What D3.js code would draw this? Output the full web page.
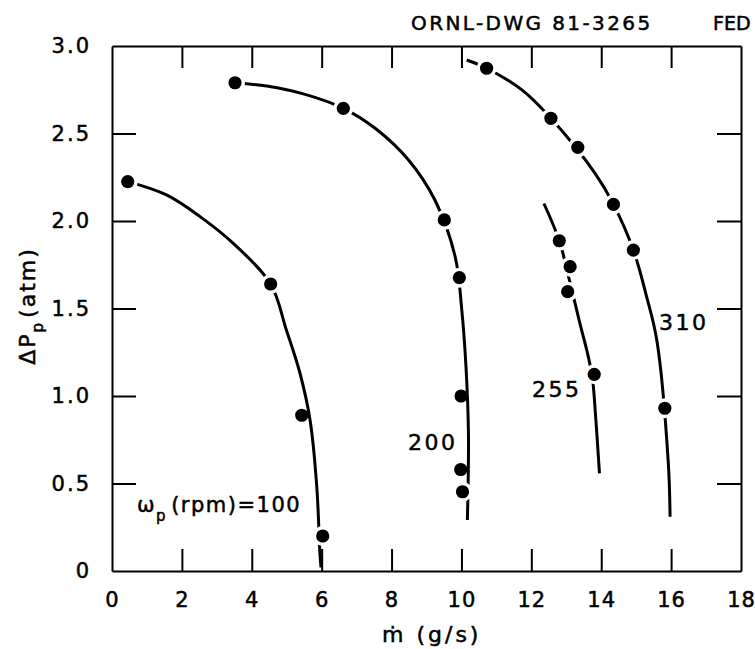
<!DOCTYPE html>
<html>
<head>
<meta charset="utf-8">
<script src="https://cdn.jsdelivr.net/npm/d3@7"></script>
<style>
  body { margin: 0; background: #fff; }
  text { font-family: "DejaVu Sans", sans-serif; fill: #000; stroke: #000; stroke-width: 0.5px; }
</style>
</head>
<body>
<div id="chart"></div>
<script>
'use strict';

// pump speeds (rpm) of the four curves
const speeds = [100, 200, 255, 310];

// measured points, mass flow (g/s) and pressure rise (atm)
const flow100 = [0.45, 4.54, 5.43, 6.03];
const dp100   = [2.225, 1.64, 0.89, 0.20];
const flow200 = [3.52, 6.62, 9.51, 9.94, 9.99, 9.98, 10.03];
const dp200   = [2.79, 2.644, 2.006, 1.676, 1.00, 0.58, 0.453];
const flow255 = [12.80, 13.11, 13.04, 13.80];
const dp255   = [1.887, 1.739, 1.596, 1.124];
const flow310 = [10.72, 12.56, 13.33, 14.35, 14.92, 15.82];
const dp310   = [2.873, 2.587, 2.421, 2.095, 1.834, 0.93];

// hand-drawn fitted curves
const fit100 = [[0.45,2.225],[1.56,2.149],[2.52,2.025],[3.47,1.872],[4.54,1.64],[4.99,1.377],[5.38,1.13],[5.67,0.86],[5.86,0.482],[5.95,0.103],[5.98,0.02]];
const fit200 = [[3.52,2.79],[4.43,2.771],[5.5,2.725],[6.62,2.644],[7.53,2.53],[8.48,2.35],[9.24,2.12],[9.82,1.796],[10.01,1.491],[10.13,1.167],[10.2,0.787],[10.17,0.291]];
const fit255 = [[12.36,2.10],[12.8,1.887],[13.08,1.67],[13.39,1.415],[13.63,1.225],[13.75,1.10],[13.82,0.939],[13.95,0.558]];
const fit310 = [[10.15,2.92],[10.72,2.873],[11.73,2.749],[12.56,2.587],[13.82,2.273],[14.35,2.095],[14.92,1.834],[15.3,1.567],[15.59,1.32],[15.92,0.615],[15.97,0.31]];

const xTicks = [0, 2, 4, 6, 8, 10, 12, 14, 16, 18];
const yTicks = [0, 0.5, 1.0, 1.5, 2.0, 2.5, 3.0];

const curves = [
  {flow: flow100, dp: dp100, fit: fit100},
  {flow: flow200, dp: dp200, fit: fit200},
  {flow: flow255, dp: dp255, fit: fit255},
  {flow: flow310, dp: dp310, fit: fit310}
];

var width = 755, height = 649;
var margin = {top: 46, right: 14, bottom: 78, left: 112};

var svg = d3.select("#chart").append("svg")
  .attr("width", width)
  .attr("height", height);

var x = d3.scaleLinear().domain([0, 18]).range([margin.left, width - margin.right]);
var y = d3.scaleLinear().domain([0, 3]).range([height - margin.bottom, margin.top]);

// ****************** axes ***************************
function styleAxis(g, spacing) {
  g.select(".domain").attr("stroke", "#000").attr("stroke-width", 2);
  g.selectAll(".tick line").attr("stroke", "#000").attr("stroke-width", 2);
  g.selectAll(".tick text")
    .attr("font-size", 21)
    .attr("letter-spacing", spacing)
    .attr("fill", "#000");
}

// drop the end ticks that sit on the frame
function dropEnds(g, ends) {
  g.selectAll(".tick").filter(d => ends.includes(d)).select("line").remove();
}

svg.append("g")
  .attr("transform", "translate(0," + y(0) + ")")
  .call(d3.axisBottom(x).tickValues(xTicks).tickSizeInner(-22).tickSizeOuter(0).tickPadding(21))
  .call(styleAxis, 1)
  .call(dropEnds, [0, 18]);

svg.append("g")
  .attr("transform", "translate(" + x(0) + ",0)")
  .call(d3.axisLeft(y).tickValues(yTicks).tickSizeInner(-24).tickSizeOuter(0).tickPadding(21)
    .tickFormat(d => d === 0 ? "0" : d.toFixed(1)))
  .call(styleAxis, 2)
  .call(dropEnds, [0, 3]);

svg.append("g")
  .attr("transform", "translate(0," + y(3) + ")")
  .call(d3.axisTop(x).tickValues(xTicks).tickSizeInner(-22).tickSizeOuter(0).tickFormat(""))
  .call(styleAxis, 0)
  .call(dropEnds, [0, 18]);

svg.append("g")
  .attr("transform", "translate(" + x(18) + ",0)")
  .call(d3.axisRight(y).tickValues(yTicks).tickSizeInner(-24).tickSizeOuter(0).tickFormat(""))
  .call(styleAxis, 0)
  .call(dropEnds, [0, 3]);

// ****************** curves and points ***************************
var line = d3.line()
  .x(d => x(d[0]))
  .y(d => y(d[1]))
  .curve(d3.curveCatmullRom.alpha(0.5));

curves.forEach(function(c) {
  var path = svg.append("path")
    .datum(c.fit)
    .attr("d", line)
    .attr("fill", "none")
    .attr("stroke", "#000")
    .attr("stroke-width", 3);

  var node = path.node();
  var total = node.getTotalLength();
  function distToLine(px, py) {
    var best = Infinity;
    for (var s = 0; s <= total; s += 1) {
      var p = node.getPointAtLength(s);
      var dd = Math.hypot(p.x - px, p.y - py);
      if (dd < best) best = dd;
    }
    return best;
  }

  var pts = c.flow.map((f, i) => [f, c.dp[i]]);

  // the drawing breaks the line around dots sitting on it
  pts.forEach(function(p) {
    if (distToLine(x(p[0]), y(p[1])) < 6) {
      svg.append("circle")
        .attr("cx", x(p[0])).attr("cy", y(p[1]))
        .attr("r", 10)
        .attr("fill", "#fff");
    }
  });

  svg.selectAll(null)
    .data(pts)
    .enter().append("circle")
    .attr("cx", d => x(d[0]))
    .attr("cy", d => y(d[1]))
    .attr("r", 6.6)
    .attr("fill", "#000");
});

// ****************** labels ***************************
var lab = svg.append("text")
  .attr("x", 137).attr("y", 512)
  .attr("font-size", 21)
  .attr("letter-spacing", 1.5);
lab.append("tspan").text("\u03c9");
lab.append("tspan").attr("font-size", 15).attr("dy", 9).text("p");
lab.append("tspan").attr("dy", -9).attr("dx", 4).text("(rpm)=" + speeds[0]);

svg.append("text").attr("x", 408).attr("y", 450)
  .attr("font-size", 22).attr("letter-spacing", 2.5).text(speeds[1]);
svg.append("text").attr("x", 532).attr("y", 397)
  .attr("font-size", 22).attr("letter-spacing", 2.5).text(speeds[2]);
svg.append("text").attr("x", 659).attr("y", 330)
  .attr("font-size", 22).attr("letter-spacing", 2.5).text(speeds[3]);

// axis titles
svg.append("text")
  .attr("x", 382).attr("y", 642)
  .attr("font-size", 22)
  .attr("letter-spacing", 3)
  .text("\u1e41 (g/s)");

var yt = svg.append("text")
  .attr("transform", "translate(35,306) rotate(-90)")
  .attr("text-anchor", "middle")
  .attr("font-size", 22)
  .attr("letter-spacing", 2);
yt.append("tspan").text("\u0394P");
yt.append("tspan").attr("font-size", 15).attr("dy", 8).text("p");
yt.append("tspan").attr("dy", -8).attr("dx", 3).text("(atm)");

// drawing number
svg.append("text")
  .attr("x", 411).attr("y", 30)
  .attr("font-size", 20)
  .attr("letter-spacing", 2.4)
  .text("ORNL-DWG 81-3265");
svg.append("text")
  .attr("x", 713).attr("y", 30)
  .attr("font-size", 19)
  .text("FED");
</script>
</body>
</html>
